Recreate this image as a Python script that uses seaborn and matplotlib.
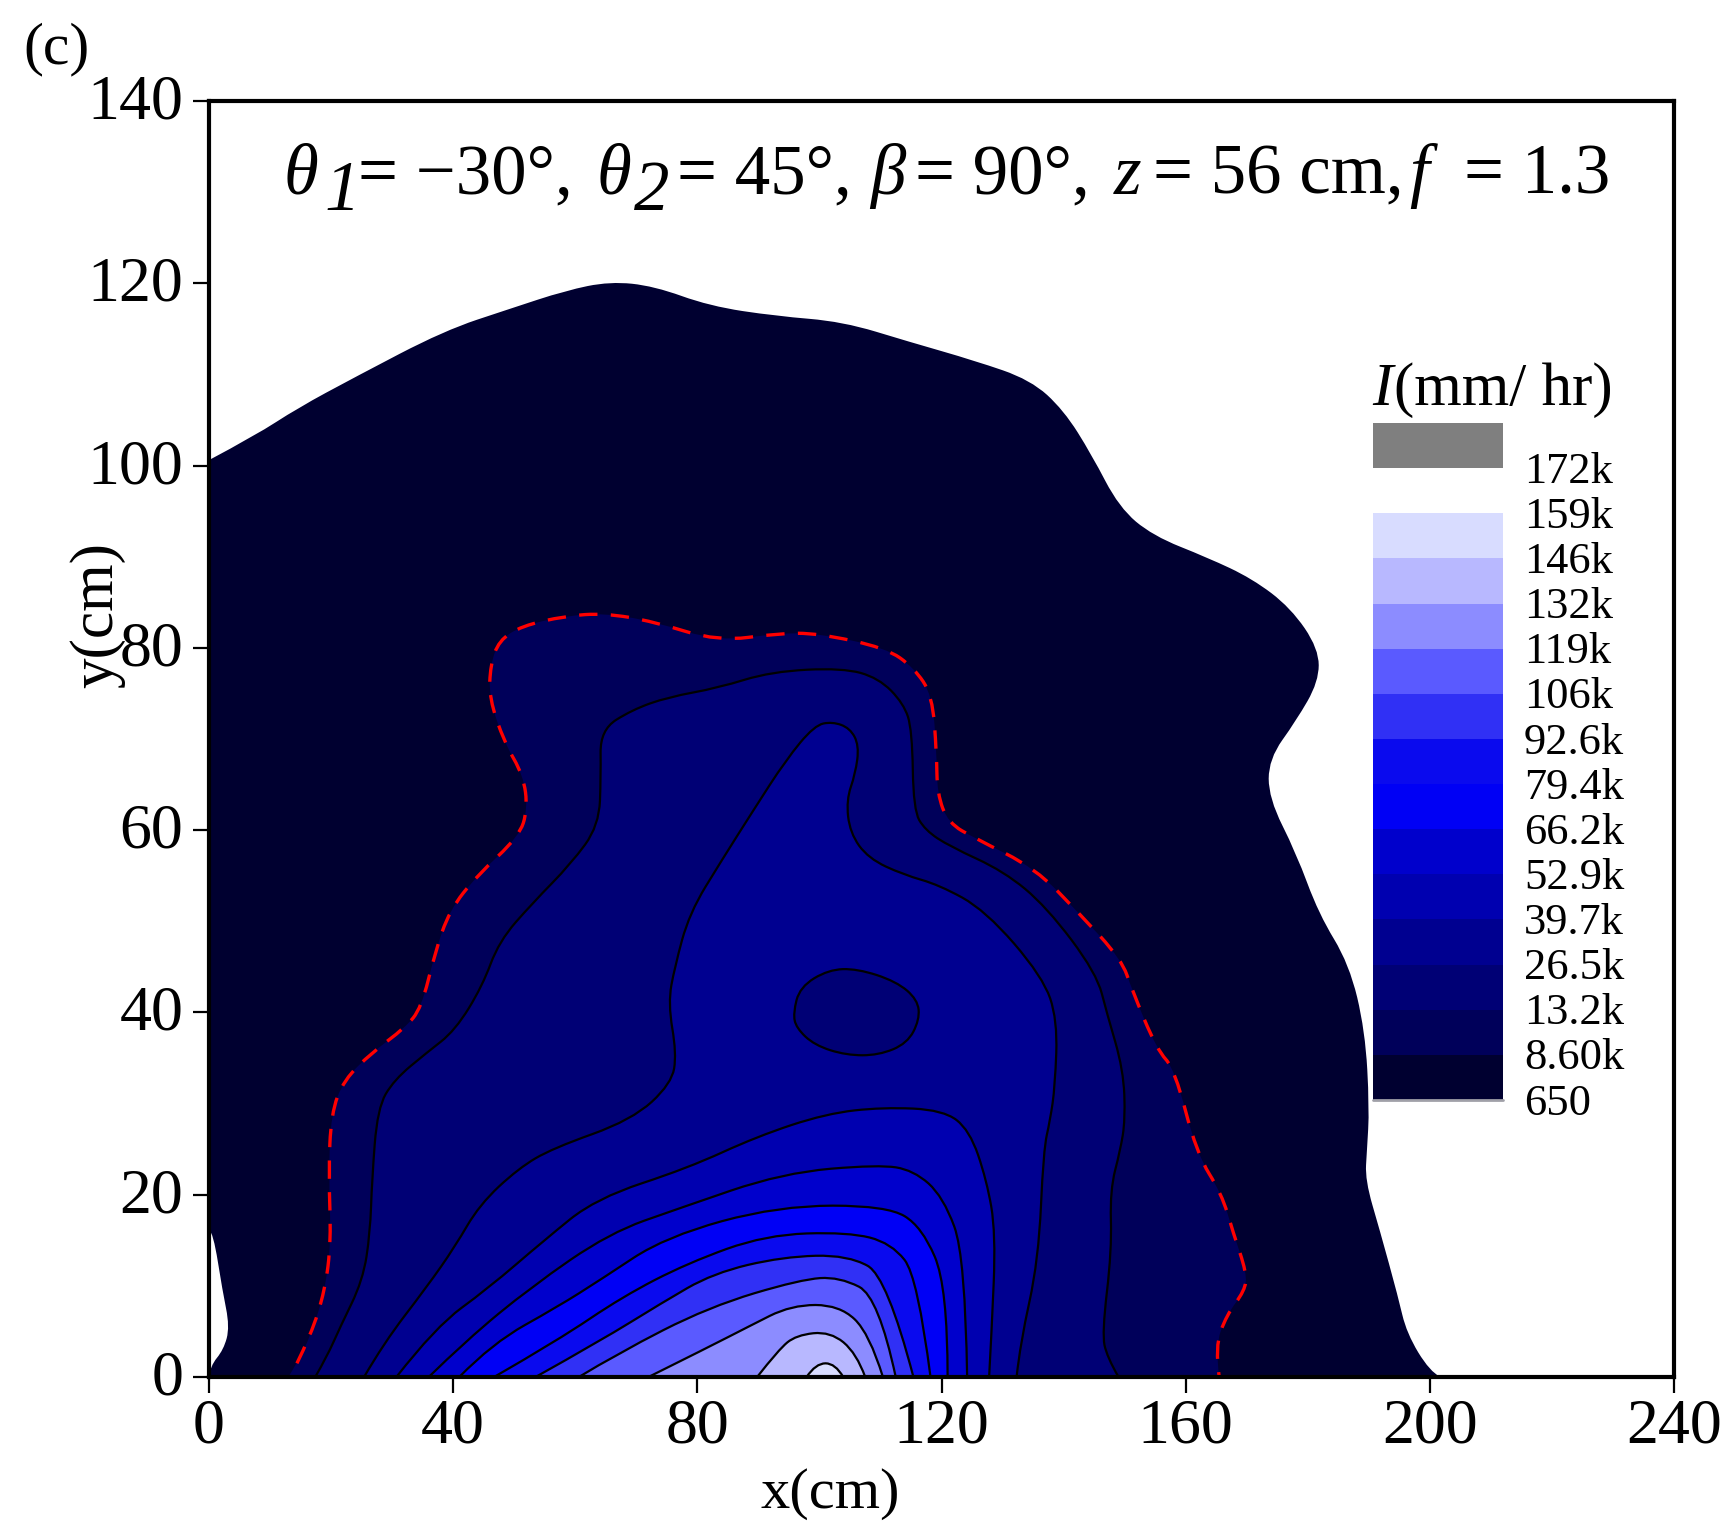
"""
Rainfall intensity contour map, panel (c).
Contours read off the published figure, in cm.
"""

import numpy as np
import matplotlib
matplotlib.use('Agg')  # Non-interactive backend
import matplotlib.pyplot as plt
from matplotlib.colors import ListedColormap
from matplotlib.patches import PathPatch
from matplotlib.path import Path
from matplotlib.transforms import ScaledTranslation
import seaborn as sns

# contour outlines, outermost first, as (x cm, y cm)
edge_650 = [(0, 100.6), (7.6, 103.3), (14.5, 106.3), (23.9, 109.7), (38.5, 114.8), (49.3, 117.2),
            (58.4, 119.2), (65.7, 120.2), (72.9, 119.7), (82, 117.5), (92.9, 116.4), (103.8, 115.8),
            (114.6, 113.6), (125.5, 111.5), (134.6, 109.4), (140, 106.1), (144.6, 101.2), (149.1, 95.4),
            (154.6, 92.3), (163.6, 89.9), (170.9, 87.6), (177.2, 84.4), (181.8, 79.9), (181.8, 76.3),
            (178.1, 72), (173.6, 67.8), (173.6, 63.5), (178.1, 57.5), (181.8, 50.8), (186.8, 45.3),
            (189.4, 38), (190.1, 29.5), (189.7, 24.9), (189.4, 21.6), (191.8, 16.1), (194.8, 8.8),
            (196.2, 4.8), (200, 0.6), (201.7, 0)]

# white nook against the y axis, part of the same outline
nook_650 = [(0, 0), (0.2, 1.2), (2.4, 3.0), (3.4, 5.5), (2.2, 9.5), (0.7, 15.8), (0, 16.2)]

edge_8k6 = [(13, 0), (14.4, 1.5), (16.7, 4.6), (19, 9.5), (20, 14.9), (19.6, 22.2), (20, 28.9), (22.1, 32.6),
            (26.7, 35.6), (32.1, 38.3), (34.8, 40.5), (37, 46.5), (39.4, 51.2), (43.9, 55), (50.8, 59.3),
            (52.2, 62.3), (51.5, 66), (48.4, 69.6), (45.9, 74.5), (46.1, 78.1), (47.5, 80.8), (51.2, 82.4),
            (58.4, 83.5), (64.8, 83.8), (72.8, 82.9), (83.4, 80.7), (93.3, 81.6), (99.7, 81.6), (110.9, 80),
            (115.5, 77.8), (118.5, 74.8), (119.2, 68.4), (119.3, 64), (121.1, 60.8), (125.5, 59.1),
            (135.4, 55.8), (142.5, 50.9), (149.5, 45.8), (151.2, 42.5), (155.3, 35.9), (158.2, 33.8),
            (161.8, 24.5), (165.9, 20.1), (167.8, 15.8), (170, 11.4), (169.7, 9.5), (166.7, 6.8),
            (164.8, 3.3), (165.5, 0)]

edge_13k2 = [(17.4, 0), (19.3, 2.2), (21.5, 5.5), (25.2, 10.6), (26.4, 15.8), (26.7, 21.6), (27.6, 29.5),
             (30.3, 32.6), (35.7, 35.6), (40.3, 38), (44.8, 42.9), (47.5, 47.8), (53, 52), (59.3, 56.3),
             (63.9, 60.5), (64.2, 66), (64.1, 71), (69.3, 73.2), (75.2, 74.6), (83.4, 75.6), (92.1, 77.4),
             (103.8, 77.8), (109.7, 76.7), (113.8, 73.9), (115.2, 71), (115.4, 62.2), (117.3, 60),
             (121.4, 58.2), (130.2, 55.5), (137.2, 51.6), (145.4, 44.3), (147.1, 39.9), (149.8, 33.7),
             (150.1, 28.2), (149.3, 24.9), (147.6, 20.5), (147.9, 13.9), (146.3, 4.8), (147.1, 2.2), (149, 0)]

edge_26k5 = [(25.4, 0), (28.6, 3.7), (35.7, 9.9), (40.3, 14.3), (44.3, 18.9), (50.7, 22.9), (56.3, 25.1),
             (69.3, 28.2), (75.8, 32.2), (76.6, 35.5), (75.2, 41), (76.3, 45), (78.7, 50.9), (84, 56.7),
             (89.2, 62.2), (94.5, 67.7), (99.2, 71.5), (102.1, 71.9), (105, 71.2), (106.5, 69.3), (105.9, 66.2),
             (104.4, 63.3), (105, 59.7), (108, 56.9), (113.8, 55.1), (119.6, 54), (127.2, 51.2), (136.6, 43.9),
             (139, 39.2), (138.6, 31.9), (137.8, 28.2), (136.7, 24.9), (135.9, 12.8), (132.9, 3.7), (132.3, 0)]

edge_39k7 = [(30.7, 0), (37.1, 5.5), (45.7, 9.7), (54.9, 15), (63.4, 19.6), (78.4, 22.9), (89.8, 26.4),
             (101.1, 28.9), (110.4, 29.6), (120.3, 29.3), (124.6, 27.1), (127.4, 21.6), (128.9, 15.8),
             (128.2, 4.8), (127.8, 0)]

edge_52k9 = [(36, 0), (42.1, 4), (52.8, 9.9), (65.6, 15.8), (77, 18.5), (94, 22.4), (109.7, 23.3), (115.4, 22.7),
             (120.3, 19.8), (123.9, 13.2), (124.2, 0)]

edge_66k2 = [(41, 0), (46.4, 3.7), (57.1, 7.7), (64.2, 10.7), (74.8, 15.4), (93.3, 18.8), (111.1, 18.8),
             (116.8, 16.5), (121, 9.9), (121, 0)]

edge_79k4 = [(46.7, 0), (57.1, 4), (67.7, 8.8), (78.4, 12.5), (91.2, 15.6), (104.7, 15.9), (111.8, 14.7),
             (116.1, 11), (118.2, 0)]

edge_92k6 = [(53.5, 0), (64.2, 4), (74.1, 8.1), (82.6, 11.4), (94, 13.2), (104.7, 13.4), (111.1, 11), (115.4, 0)]

edge_106k = [(60.6, 0), (67, 2.6), (81.9, 7.7), (96.9, 10.7), (103.3, 11), (109.7, 8.8), (112.5, 0)]

edge_119k = [(72, 0), (81.9, 3.3), (88.3, 5.5), (95.4, 7.9), (103.3, 7.9), (108.2, 4.8), (110.4, 0)]

edge_132k = [(89.8, 0), (93.3, 3), (96.2, 4.6), (101.8, 5), (106.1, 2.6), (107.5, 0)]

edge_146k = [(97.9, 0), (99.4, 1.5), (102.6, 1.5), (103.9, 0)]

# closed low patch around (106, 40)
island_26k5 = [(95.7, 39.9), (96.8, 42.8), (101.5, 44.7), (106.2, 44.8), (112.6, 43.4), (116.1, 41.4),
               (116.4, 39.2), (114.4, 36.6), (109.7, 35.3), (104.4, 35.3), (99.2, 36.4), (96.2, 38.3)]

band_labels = ['172k', '159k', '146k', '132k', '119k', '106k', '92.6k', '79.4k',
               '66.2k', '52.9k', '39.7k', '26.5k', '13.2k', '8.60k', '650']
band_colors = ['#7f7f7f', '#ffffff', '#d8dcff', '#b8b8ff', '#8c8cff', '#5a5aff', '#3030f5', '#0a0aee',
               '#0000f5', '#0000cc', '#0000b0', '#000090', '#000075', '#00005a', '#000030']

x_ticks = [0, 40, 80, 120, 160, 200, 240]
y_ticks = [0, 20, 40, 60, 80, 100, 120, 140]

W, H = 1736, 1538
SERIF = 'Liberation Serif'


def smooth_chain(points):
    """Quadratic curve segments with the read points as control points."""
    pts = np.asarray(points, dtype=float)
    verts = [pts[0]]
    codes = [Path.MOVETO]
    for i in range(1, len(pts) - 1):
        end = pts[i + 1] if i == len(pts) - 2 else (pts[i] + pts[i + 1]) / 2
        verts += [pts[i], end]
        codes += [Path.CURVE3, Path.CURVE3]
    return verts, codes


def smooth_loop(points):
    pts = np.asarray(points, dtype=float)
    verts = [(pts[-1] + pts[0]) / 2]
    codes = [Path.MOVETO]
    for i in range(len(pts)):
        verts += [pts[i], (pts[i] + pts[(i + 1) % len(pts)]) / 2]
        codes += [Path.CURVE3, Path.CURVE3]
    return Path(verts, codes)


def closed(verts, codes):
    return Path(verts + [verts[0]], codes + [Path.CLOSEPOLY])


def draw_contours(ax):
    edges = [edge_8k6, edge_13k2, edge_26k5, edge_39k7, edge_52k9, edge_66k2,
             edge_79k4, edge_92k6, edge_106k, edge_119k, edge_132k, edge_146k]
    colors = band_colors[::-1]

    # outer outline: the top curve, then back along y = 0 and round the nook
    verts, codes = smooth_chain(edge_650)
    nook_verts, nook_codes = smooth_chain(nook_650)
    nook_codes[0] = Path.LINETO
    ax.add_patch(PathPatch(closed(verts + nook_verts, codes + nook_codes),
                           facecolor=colors[0], lw=0, zorder=1))

    for i, edge in enumerate(edges):
        verts, codes = smooth_chain(edge)
        ax.add_patch(PathPatch(closed(verts, codes), facecolor=colors[i + 1], lw=0, zorder=1 + (i + 1) * 0.01))
    ax.add_patch(PathPatch(smooth_loop(island_26k5), facecolor=colors[2], lw=0, zorder=1.2))

    # 8.6k is the dashed red one, without the stub at the left baseline
    verts, codes = smooth_chain(edge_8k6[1:])
    ax.add_patch(PathPatch(Path(verts, codes), fill=False, edgecolor='#ff0000', lw=2.4,
                           linestyle=(0, (5.5, 4)), capstyle='butt', zorder=2))
    for edge in edges[1:]:
        verts, codes = smooth_chain(edge)
        ax.add_patch(PathPatch(Path(verts, codes), fill=False, edgecolor='black', lw=1.6, zorder=2))
    ax.add_patch(PathPatch(smooth_loop(island_26k5), fill=False, edgecolor='black', lw=1.6, zorder=2))


def draw_title(ax):
    base = 129.8
    sub = 128.0
    size = 51
    parts = [
        (12.2, base, '\u03b8', 'italic'), (18.9, sub, '1', 'italic'), (24.4, base, '= \u221230\u00b0,', 'normal'),
        (63.5, base, '\u03b8', 'italic'), (69.6, sub, '2', 'italic'), (76.6, base, '= 45\u00b0,', 'normal'),
        (108.3, base, '\u03b2', 'italic'), (115.6, base, '= 90\u00b0,', 'normal'),
        (148.2, base, 'z', 'italic'), (154.6, base, '= 56 cm,', 'normal'),
        (196.6, base, 'f', 'italic'), (205.6, base, '= 1.3', 'normal'),
    ]
    for x, y, text, style in parts:
        ax.text(x, y, text, fontsize=size, fontstyle=style, family=SERIF, ha='left', va='baseline', color='black')


def draw_band_key(fig):
    key = fig.add_axes([1373 / W, 1 - 1100 / H, 130 / W, 677 / H])
    rows = np.arange(len(band_colors)).reshape(-1, 1)
    sns.heatmap(rows, ax=key, cmap=ListedColormap(band_colors), cbar=False,
                xticklabels=False, yticklabels=False, linewidths=0)
    key.axhline(len(band_colors), color='#a0a0a8', lw=2, clip_on=False)
    for i, label in enumerate(band_labels):
        key.text(1.16, i + 1.08, label, fontsize=32, family=SERIF, ha='left', va='center', color='black')
    fig.text(1372 / W, 1 - 405 / H, 'I', fontsize=44, fontstyle='italic', family=SERIF, va='baseline', color='black')
    fig.text(1394 / W, 1 - 405 / H, '(mm/ hr)', fontsize=44, family=SERIF, va='baseline', color='black')


def main():
    sns.set_theme(style='ticks')
    plt.rcParams['font.family'] = [SERIF, 'DejaVu Serif']

    fig = plt.figure(figsize=(W / 100, H / 100), dpi=100)
    ax = fig.add_axes([209 / W, 1 - 1377 / H, 1465 / W, 1276 / H])

    draw_contours(ax)
    draw_title(ax)

    ax.set_xlim(0, 240)
    ax.set_ylim(0, 140)
    ax.set_xticks(x_ticks)
    ax.set_yticks(y_ticks)
    ax.tick_params(length=11.5, width=1.6, labelsize=46, pad=4, color='black', labelcolor='black')

    # y labels sit a bit higher and further out than the default
    nudge = ScaledTranslation(-4 / 100, 4.5 / 100, fig.dpi_scale_trans)
    for label in ax.get_yticklabels():
        label.set_transform(label.get_transform() + nudge)

    for spine in ax.spines.values():
        spine.set_linewidth(3)
        spine.set_color('black')
        spine.set_visible(True)

    fig.text(830 / W, 1 - 1494 / H, 'x(cm)', fontsize=42, ha='center', va='center', family=SERIF, color='black')
    fig.text(97 / W, 1 - 615 / H, 'y(cm)', fontsize=44, ha='center', va='center', rotation=90,
             family=SERIF, color='black')
    fig.text(23 / W, 1 - 63 / H, '(c)', fontsize=43, family=SERIF, va='baseline', color='black')

    draw_band_key(fig)

    fig.savefig('out.png', dpi=100)
    plt.close(fig)


if __name__ == "__main__":
    main()
